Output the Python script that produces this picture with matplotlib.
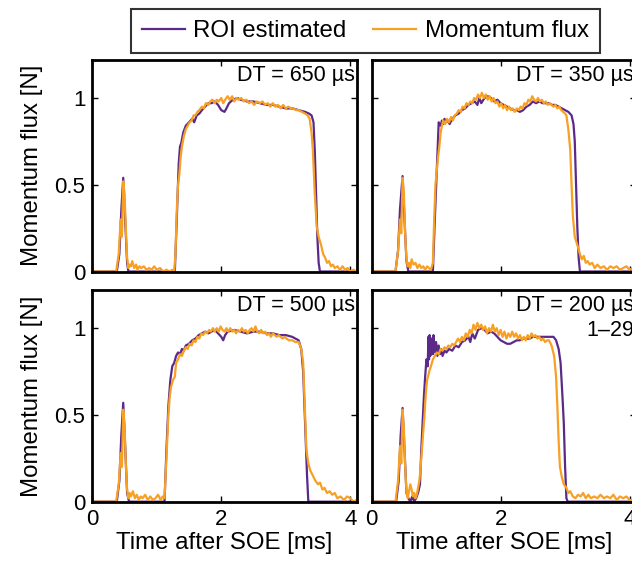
import matplotlib.pyplot as plt
from matplotlib.ticker import FuncFormatter

plt.rcParams['font.family'] = ['Liberation Sans', 'DejaVu Sans']

purple = '#5b2a88'
orange = '#f7a023'

# DT = 650 us
t_roi_650 = [0, 0.38, 0.42, 0.45, 0.48, 0.51, 0.54, 0.56, 1.28, 1.31, 1.34, 1.36, 1.38, 1.41, 1.45,
             1.5, 1.55, 1.58, 1.62, 1.66, 1.7, 1.75, 1.8, 1.85, 1.9, 1.95, 2.0, 2.05, 2.08, 2.12,
             2.18, 2.25, 2.3, 2.4, 2.5, 2.6, 2.7, 2.8, 2.9, 3.0, 3.1, 3.2, 3.3, 3.36, 3.4, 3.43,
             3.45, 3.47, 3.49, 3.51, 3.53, 4.1]
v_roi_650 = [0, 0, 0.1, 0.35, 0.54, 0.3, 0.05, 0, 0, 0.3, 0.62, 0.72, 0.74, 0.8, 0.84,
             0.86, 0.88, 0.86, 0.9, 0.91, 0.93, 0.95, 0.97, 0.97, 0.98, 0.96, 0.93, 0.92, 0.94, 0.97,
             0.99, 1.0, 0.99, 0.98, 0.98, 0.97, 0.96, 0.96, 0.95, 0.94, 0.94, 0.93, 0.92, 0.91, 0.9, 0.86,
             0.7, 0.45, 0.2, 0.05, 0, 0]
t_flux_650 = [0, 0.37, 0.41, 0.44, 0.46, 0.48, 0.5, 0.52, 0.54, 0.56, 0.58, 0.6, 0.62, 0.65, 0.68,
              0.7, 0.73, 0.76, 0.8, 0.84, 0.88, 0.92, 0.96, 1.0, 1.05, 1.1, 1.15, 1.2, 1.24, 1.27,
              1.29, 1.31, 1.33, 1.35, 1.37, 1.39, 1.42, 1.45, 1.48, 1.51, 1.54, 1.57, 1.6, 1.63, 1.66,
              1.7, 1.73, 1.76, 1.8, 1.83, 1.86, 1.9, 1.93, 1.96, 2.0, 2.03, 2.06, 2.1, 2.13, 2.17,
              2.2, 2.24, 2.27, 2.31, 2.35, 2.39, 2.43, 2.47, 2.51, 2.55, 2.6, 2.64, 2.68, 2.72, 2.76,
              2.8, 2.84, 2.88, 2.92, 2.96, 3.0, 3.04, 3.08, 3.12, 3.16, 3.2, 3.25, 3.3, 3.34, 3.37,
              3.4, 3.42, 3.45, 3.48, 3.51, 3.55, 3.58, 3.61, 3.64, 3.67, 3.7, 3.73, 3.76, 3.8, 3.84,
              3.88, 3.92, 3.96, 4.0, 4.05, 4.1]
v_flux_650 = [0, 0, 0.1, 0.3, 0.2, 0.52, 0.45, 0.25, 0.08, 0.02, 0.04, 0.03, 0.06, 0.02, 0.04,
              0.01, 0.03, 0.02, 0.03, 0.01, 0.02, 0.01, 0.03, 0.01, 0.02, 0.0, 0.01, 0.0, 0.01, 0.0,
              0.1, 0.35, 0.5, 0.56, 0.66, 0.72, 0.78, 0.82, 0.84, 0.86, 0.87, 0.9, 0.9, 0.92, 0.93,
              0.95, 0.94, 0.97, 0.96, 0.98, 0.99, 0.97, 0.99, 0.98, 1.0, 0.97, 0.99, 1.01, 0.99, 1.01,
              0.98, 1.0, 0.99, 1.0, 0.98, 0.99, 0.97, 0.98, 0.96, 0.98, 0.97, 0.98, 0.96, 0.97, 0.95,
              0.97, 0.95, 0.96, 0.94, 0.96, 0.94, 0.95, 0.94, 0.94, 0.93, 0.93, 0.92, 0.91, 0.9, 0.88,
              0.8, 0.7, 0.45, 0.26, 0.2, 0.15, 0.1, 0.08, 0.05, 0.06, 0.03, 0.04, 0.02, 0.03, 0.01,
              0.03, 0.01, 0.02, 0.0, 0.01, 0.0]

# DT = 350 us
t_roi_350 = [0, 0.37, 0.41, 0.44, 0.48, 0.51, 0.54, 0.57, 0.95, 0.98, 1.01, 1.04, 1.07, 1.09, 1.11,
             1.13, 1.15, 1.18, 1.21, 1.25, 1.3, 1.35, 1.4, 1.45, 1.5, 1.55, 1.6, 1.64, 1.67, 1.7,
             1.75, 1.8, 1.85, 1.9, 1.95, 2.0, 2.05, 2.1, 2.15, 2.2, 2.25, 2.3, 2.35, 2.4, 2.45,
             2.5, 2.55, 2.6, 2.65, 2.7, 2.75, 2.8, 2.85, 2.9, 2.95, 3.0, 3.05, 3.1, 3.13, 3.15,
             3.17, 3.19, 3.21, 3.23, 4.1]
v_roi_350 = [0, 0, 0.12, 0.36, 0.55, 0.3, 0.06, 0, 0, 0.3, 0.58, 0.86, 0.84, 0.87, 0.85,
             0.88, 0.86, 0.87, 0.85, 0.88, 0.9, 0.91, 0.93, 0.94, 0.96, 0.97, 0.98, 0.96, 1.0, 0.97,
             1.0, 1.01, 1.0, 0.98, 0.99, 0.97, 0.96, 0.95, 0.94, 0.93, 0.93, 0.92, 0.93, 0.95, 0.96,
             0.98, 0.97, 0.98, 0.97, 0.97, 0.97, 0.96, 0.96, 0.95, 0.94, 0.93, 0.92, 0.9, 0.85, 0.75,
             0.5, 0.25, 0.08, 0, 0]
t_flux_350 = [0, 0.37, 0.41, 0.44, 0.46, 0.48, 0.5, 0.52, 0.54, 0.56, 0.58, 0.6, 0.62, 0.65, 0.68,
              0.71, 0.74, 0.77, 0.8, 0.83, 0.86, 0.89, 0.92, 0.95, 0.97, 0.99, 1.01, 1.03, 1.05, 1.07,
              1.09, 1.11, 1.14, 1.17, 1.2, 1.23, 1.26, 1.29, 1.32, 1.35, 1.38, 1.41, 1.44, 1.47, 1.5,
              1.53, 1.56, 1.59, 1.62, 1.65, 1.68, 1.71, 1.74, 1.77, 1.8, 1.83, 1.86, 1.89, 1.92, 1.95,
              1.98, 2.01, 2.04, 2.07, 2.1, 2.13, 2.16, 2.19, 2.22, 2.25, 2.28, 2.31, 2.34, 2.37, 2.4,
              2.43, 2.46, 2.49, 2.52, 2.55, 2.58, 2.61, 2.64, 2.67, 2.7, 2.73, 2.76, 2.79, 2.82, 2.85,
              2.88, 2.91, 2.94, 2.97, 3.0, 3.02, 3.05, 3.08, 3.1, 3.12, 3.15, 3.2, 3.23, 3.26, 3.29,
              3.32, 3.35, 3.38, 3.42, 3.46, 3.5, 3.55, 3.6, 3.65, 3.7, 3.75, 3.8, 3.85, 3.9, 3.95,
              4.0, 4.05, 4.1]
v_flux_350 = [0, 0, 0.12, 0.3, 0.22, 0.54, 0.45, 0.22, 0.07, 0.03, 0.05, 0.02, 0.07, 0.04, 0.05,
              0.02, 0.04, 0.02, 0.03, 0.01, 0.03, 0.02, 0.01, 0.05, 0.3, 0.5, 0.58, 0.66, 0.72, 0.8,
              0.84, 0.87, 0.85, 0.88, 0.86, 0.89, 0.87, 0.9, 0.91, 0.93, 0.92, 0.95, 0.94, 0.97, 0.96,
              0.98, 0.97, 1.0, 0.99, 1.02, 1.0, 1.03, 1.0, 1.02, 0.99, 1.01, 0.98, 1.0, 0.97, 0.98,
              0.95, 0.97, 0.94, 0.96, 0.93, 0.95, 0.93, 0.94, 0.92, 0.94, 0.93, 0.95, 0.94, 0.97, 0.96,
              0.99, 0.98, 1.01, 0.99, 0.98, 1.0, 0.98, 0.99, 0.97, 0.98, 0.96, 0.97, 0.96, 0.95, 0.96,
              0.94, 0.95, 0.93, 0.92, 0.91, 0.9, 0.82, 0.7, 0.5, 0.32, 0.2, 0.14, 0.1, 0.07, 0.09,
              0.05, 0.06, 0.04, 0.05, 0.02, 0.04, 0.02, 0.03, 0.01, 0.03, 0.02, 0.03, 0.01, 0.02, 0.03,
              0.01, 0.02, 0.01]

# DT = 500 us
t_roi_500 = [0, 0.38, 0.42, 0.45, 0.48, 0.51, 0.54, 0.57, 1.12, 1.15, 1.18, 1.21, 1.24, 1.27, 1.3,
             1.33, 1.36, 1.39, 1.42, 1.45, 1.5, 1.55, 1.6, 1.65, 1.7, 1.75, 1.8, 1.85, 1.9, 1.95,
             2.0, 2.03, 2.06, 2.1, 2.2, 2.3, 2.4, 2.5, 2.6, 2.7, 2.8, 2.9, 3.0, 3.1, 3.2,
             3.24, 3.27, 3.3, 3.33, 3.35, 4.1]
v_roi_500 = [0, 0, 0.12, 0.38, 0.57, 0.32, 0.05, 0, 0, 0.3, 0.55, 0.7, 0.78, 0.8, 0.84,
             0.86, 0.85, 0.88, 0.87, 0.9, 0.91, 0.93, 0.94, 0.96, 0.97, 0.98, 0.97, 0.98, 0.99, 0.97,
             0.95, 0.93, 0.96, 0.98, 0.99, 0.98, 0.97, 0.98, 0.98, 0.97, 0.97, 0.96, 0.96, 0.95, 0.93,
             0.88, 0.75, 0.45, 0.15, 0, 0]
t_flux_500 = [0, 0.37, 0.41, 0.44, 0.46, 0.48, 0.5, 0.52, 0.54, 0.56, 0.58, 0.6, 0.63, 0.66, 0.69,
              0.72, 0.75, 0.78, 0.82, 0.86, 0.9, 0.94, 0.98, 1.02, 1.06, 1.09, 1.12, 1.15, 1.18, 1.2,
              1.22, 1.25, 1.28, 1.3, 1.33, 1.36, 1.39, 1.42, 1.45, 1.48, 1.51, 1.54, 1.57, 1.6, 1.63,
              1.66, 1.69, 1.72, 1.75, 1.78, 1.81, 1.84, 1.87, 1.9, 1.93, 1.96, 1.99, 2.02, 2.05, 2.08,
              2.11, 2.14, 2.17, 2.2, 2.23, 2.26, 2.29, 2.32, 2.35, 2.38, 2.41, 2.44, 2.47, 2.5, 2.53,
              2.56, 2.59, 2.62, 2.65, 2.68, 2.71, 2.74, 2.77, 2.8, 2.83, 2.86, 2.89, 2.92, 2.95, 2.98,
              3.01, 3.05, 3.1, 3.15, 3.2, 3.24, 3.27, 3.3, 3.32, 3.35, 3.38, 3.42, 3.46, 3.5, 3.53,
              3.57, 3.6, 3.64, 3.68, 3.72, 3.76, 3.8, 3.85, 3.9, 3.95, 4.0, 4.05, 4.1]
v_flux_500 = [0, 0, 0.1, 0.28, 0.2, 0.53, 0.44, 0.22, 0.07, 0.02, 0.05, 0.03, 0.06, 0.02, 0.04,
              0.01, 0.03, 0.02, 0.04, 0.01, 0.03, 0.01, 0.02, 0.04, 0.01, 0.03, 0.02, 0.25, 0.5, 0.6,
              0.66, 0.7, 0.72, 0.8, 0.82, 0.85, 0.84, 0.87, 0.89, 0.88, 0.91, 0.9, 0.93, 0.92, 0.95,
              0.94, 0.97, 0.96, 0.98, 0.97, 0.99, 0.98, 1.0, 0.98, 1.0, 0.98, 1.01, 0.99, 0.98, 1.0,
              0.98, 1.0, 0.98, 0.99, 0.97, 0.99, 0.98, 1.0, 0.98, 0.99, 0.97, 0.99, 1.0, 0.98, 1.01,
              0.98, 0.97, 0.99, 0.97, 0.98, 0.96, 0.97, 0.95, 0.97, 0.96, 0.95, 0.96, 0.95, 0.94, 0.95,
              0.94, 0.93, 0.93, 0.92, 0.92, 0.88, 0.8, 0.5, 0.3, 0.22, 0.18, 0.15, 0.12, 0.1, 0.11,
              0.07, 0.08, 0.05, 0.06, 0.04, 0.05, 0.02, 0.03, 0.01, 0.03, 0.02, 0.0, 0.01]

# DT = 200 us
t_roi_200 = [0, 0.38, 0.42, 0.45, 0.48, 0.51, 0.54, 0.57, 0.6, 0.63, 0.66, 0.69, 0.72, 0.75, 0.77,
             0.79, 0.81, 0.83, 0.85, 0.87, 0.88, 0.89, 0.9, 0.91, 0.93, 0.95, 0.96, 0.98, 1.0, 1.02,
             1.04, 1.06, 1.08, 1.1, 1.13, 1.16, 1.2, 1.25, 1.3, 1.35, 1.4, 1.45, 1.5, 1.53, 1.56,
             1.6, 1.65, 1.7, 1.75, 1.8, 1.85, 1.9, 1.95, 2.0, 2.05, 2.1, 2.15, 2.2, 2.25, 2.3,
             2.35, 2.4, 2.45, 2.5, 2.55, 2.6, 2.65, 2.7, 2.75, 2.82, 2.86, 2.9, 2.93, 2.96, 2.98,
             3.0, 3.02, 3.04, 4.1]
v_roi_200 = [0, 0, 0.12, 0.38, 0.54, 0.3, 0.05, 0.02, 0.0, 0.03, 0.0, 0.02, 0.05, 0.1, 0.3,
             0.45, 0.6, 0.72, 0.82, 0.78, 0.95, 0.82, 0.96, 0.84, 0.94, 0.85, 0.96, 0.86, 0.92, 0.84,
             0.9, 0.85, 0.88, 0.84, 0.87, 0.86, 0.88, 0.87, 0.9, 0.89, 0.92, 0.93, 0.95, 0.92, 0.97,
             0.94, 0.99, 1.0, 0.99, 0.97, 0.98, 0.97, 0.95, 0.93, 0.92, 0.91, 0.91, 0.92, 0.93, 0.93,
             0.94, 0.94, 0.94, 0.95, 0.95, 0.95, 0.95, 0.95, 0.95, 0.95, 0.93, 0.88, 0.8, 0.6, 0.45,
             0.2, 0.02, 0, 0]
t_flux_200 = [0, 0.37, 0.41, 0.44, 0.46, 0.48, 0.5, 0.52, 0.54, 0.56, 0.58, 0.6, 0.62, 0.64, 0.66,
              0.68, 0.7, 0.72, 0.74, 0.76, 0.78, 0.8, 0.82, 0.84, 0.86, 0.88, 0.9, 0.92, 0.95, 0.98,
              1.01, 1.04, 1.07, 1.1, 1.13, 1.16, 1.19, 1.22, 1.25, 1.28, 1.31, 1.34, 1.37, 1.4, 1.43,
              1.46, 1.49, 1.52, 1.55, 1.58, 1.61, 1.64, 1.67, 1.7, 1.73, 1.76, 1.79, 1.82, 1.85, 1.88,
              1.91, 1.94, 1.97, 2.0, 2.03, 2.06, 2.09, 2.12, 2.15, 2.18, 2.21, 2.24, 2.27, 2.3, 2.33,
              2.36, 2.39, 2.42, 2.45, 2.48, 2.51, 2.54, 2.57, 2.6, 2.63, 2.66, 2.69, 2.72, 2.75, 2.79,
              2.83, 2.86, 2.88, 2.9, 2.92, 2.95, 2.98, 3.02, 3.05, 3.08, 3.12, 3.16, 3.2, 3.24, 3.28,
              3.32, 3.36, 3.4, 3.45, 3.5, 3.55, 3.6, 3.65, 3.7, 3.75, 3.8, 3.85, 3.9, 3.95, 4.0,
              4.1]
v_flux_200 = [0, 0, 0.12, 0.32, 0.22, 0.53, 0.42, 0.2, 0.06, 0.02, 0.06, 0.1, 0.07, 0.03, 0.05,
              0.02, 0.04, 0.08, 0.12, 0.2, 0.3, 0.4, 0.5, 0.62, 0.7, 0.73, 0.76, 0.78, 0.82, 0.84,
              0.86, 0.85, 0.88, 0.87, 0.89, 0.88, 0.9, 0.89, 0.91, 0.9, 0.92, 0.94, 0.92, 0.95, 0.93,
              0.97, 0.95, 0.99, 0.97, 1.02, 0.99, 1.03, 1.0, 1.02, 0.99, 1.01, 0.97, 1.0, 0.98, 1.02,
              0.98, 1.0, 0.96, 0.99, 0.95, 0.98, 0.94, 0.97, 0.95, 0.98, 0.95, 0.97, 0.94, 0.96, 0.93,
              0.95, 0.93, 0.96, 0.94, 0.97, 0.95, 0.96, 0.94, 0.95, 0.93, 0.94, 0.92, 0.93, 0.93, 0.9,
              0.84, 0.72, 0.55, 0.35, 0.2, 0.14, 0.1, 0.08, 0.05, 0.06, 0.03, 0.02, 0.04, 0.03, 0.05,
              0.02, 0.04, 0.02, 0.03, 0.02, 0.04, 0.02, 0.03, 0.02, 0.04, 0.01, 0.03, 0.02, 0.03, 0.01,
              0.01]

panels = [
    ('DT = 650 µs', t_roi_650, v_roi_650, t_flux_650, v_flux_650),
    ('DT = 350 µs', t_roi_350, v_roi_350, t_flux_350, v_flux_350),
    ('DT = 500 µs', t_roi_500, v_roi_500, t_flux_500, v_flux_500),
    ('DT = 200 µs', t_roi_200, v_roi_200, t_flux_200, v_flux_200),
]

fig = plt.figure(figsize=(6.32, 5.74), dpi=100)
lefts = [0.146, 0.588]
bottoms = [0.527, 0.126]
w, h = 0.4184, 0.3688

fmt = FuncFormatter(lambda v, p: '%g' % v)

for i, (label, t1, v1, t2, v2) in enumerate(panels):
    row, col = i // 2, i % 2
    ax = fig.add_axes([lefts[col], bottoms[row], w, h])
    l1, = ax.plot(t1, v1, color=purple, lw=1.6, label='ROI estimated')
    l2, = ax.plot(t2, v2, color=orange, lw=1.6, label='Momentum flux')
    ax.set_xlim(0, 4.1)
    ax.set_ylim(0, 1.22)
    ax.set_xticks([0, 2, 4])
    ax.set_yticks([0, 0.5, 1])
    ax.yaxis.set_major_formatter(fmt)
    ax.tick_params(direction='in', length=4, width=1, top=True, right=True,
                   labelsize=16, pad=5)
    for s in ax.spines.values():
        s.set_linewidth(2)
    if row == 0:
        ax.set_xticklabels([])
    else:
        ax.set_xlabel('Time after SOE [ms]', fontsize=17.3, labelpad=2)
    if col == 1:
        ax.set_yticklabels([])
    else:
        ax.set_ylabel('Momentum flux [N]', fontsize=17.3, labelpad=8)
    # right column runs past the figure edge, as in the original
    ax.text(0.993, 0.975, label, transform=ax.transAxes, ha='right', va='top', fontsize=15.5)
    if i == 3:
        ax.text(0.813, 0.86, '1–29', transform=ax.transAxes, ha='left', va='top', fontsize=15.5)

leg = fig.legend([l1, l2], ['ROI estimated', 'Momentum flux'], loc='center',
                 bbox_to_anchor=(0.578, 0.946), ncol=2, fontsize=17.3, frameon=True,
                 fancybox=False, edgecolor='black', handlelength=1.8, handletextpad=0.35,
                 columnspacing=1.1, borderpad=0.45)
leg.get_frame().set_linewidth(1.5)

plt.savefig('out.png', dpi=100)
